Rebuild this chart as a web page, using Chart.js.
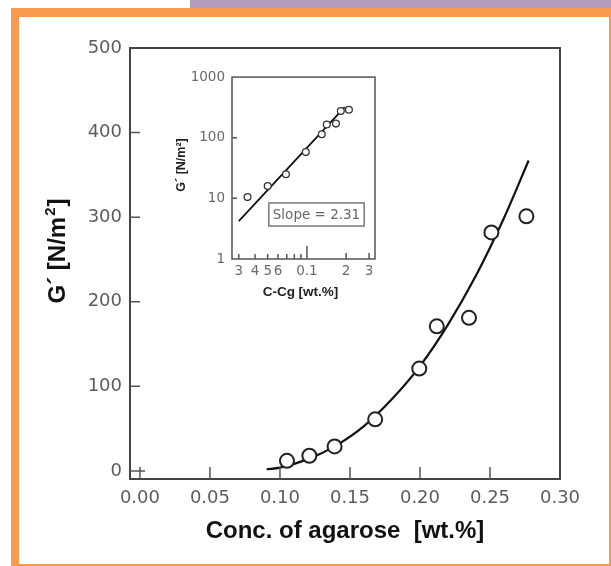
<!DOCTYPE html>
<html>
<head>
<meta charset="utf-8">
<script src="https://cdn.jsdelivr.net/npm/chart.js@4"></script>
<style>
  html, body { margin: 0; padding: 0; background: #fff; }
  #wrap { position: relative; width: 611px; height: 566px; }
  #main { position: absolute; left: 0; top: 0; }
  #inset { position: absolute; left: 170px; top: 62px; }
</style>
</head>
<body>
<div id="wrap">
  <canvas id="main" width="611" height="566"></canvas>
  <canvas id="inset" width="220" height="240"></canvas>
</div>
<script>
// main plot: G' vs agarose concentration
const concX = [0.105, 0.121, 0.139, 0.168, 0.1995, 0.212, 0.235, 0.251, 0.276];
const gPrime = [12, 18, 29, 61, 121, 171, 181, 282, 301];
// fitted curve
const fitX = [0.0905, 0.10, 0.12, 0.14, 0.16, 0.18, 0.20, 0.22, 0.24, 0.26, 0.2776];
const fitY = [2, 4, 14, 30, 53, 85, 124, 173, 231, 299, 367];
const xTicks = [0, 0.05, 0.10, 0.15, 0.20, 0.25, 0.30];
const yTicks = [0, 100, 200, 300, 400, 500];

// inset: log-log, C - Cg
const diffX = [0.035, 0.05, 0.069, 0.098, 0.13, 0.142, 0.167, 0.182, 0.21];
const insetG = [10.5, 16, 25, 58, 114, 165, 171, 276, 290];
const slopeX = [0.03, 0.195];
const slopeY = [4.2, 320];
const insetXTicks = [0.03, 0.04, 0.05, 0.06, 0.07, 0.08, 0.09, 0.1, 0.2, 0.3];
const insetXLabels = {0.03: '3', 0.04: '4', 0.05: '5', 0.06: '6', 0.1: '0.1', 0.2: '2', 0.3: '3'};
const insetYTicks = [1, 10, 100, 1000];

Chart.defaults.font.family = '"DejaVu Sans"';
Chart.defaults.color = '#5c5c5c';

const toXY = (xs, ys) => xs.map((v, i) => ({ x: v, y: ys[i] }));

const framePlugin = {
  id: 'frame',
  beforeDraw(chart) {
    const ctx = chart.ctx;
    ctx.save();
    ctx.fillStyle = '#fff';
    ctx.fillRect(0, 0, chart.width, chart.height);
    ctx.fillStyle = '#b49cc0';
    ctx.fillRect(190, 0, 421, 8);
    ctx.fillStyle = '#f89b4e';
    ctx.fillRect(11, 8, 600, 558);
    ctx.fillStyle = '#fff';
    ctx.fillRect(19, 17, 590, 547);
    ctx.restore();
  },
  afterDraw(chart) {
    const { ctx, chartArea: a, scales: { x, y } } = chart;
    ctx.save();
    ctx.strokeStyle = '#444';
    ctx.lineWidth = 2;
    ctx.strokeRect(a.left, a.top, a.right - a.left, a.bottom - a.top);
    ctx.lineWidth = 1.5;
    ctx.strokeStyle = '#555';
    ctx.beginPath();
    xTicks.slice(0, -1).forEach(v => {
      const px = x.getPixelForValue(v);
      ctx.moveTo(px, a.bottom);
      ctx.lineTo(px, a.bottom - 12);
    });
    yTicks.slice(0, -1).forEach(v => {
      const py = y.getPixelForValue(v);
      ctx.moveTo(a.left, py);
      ctx.lineTo(a.left + (v === 0 ? 15 : 10), py);
    });
    ctx.stroke();

    ctx.fillStyle = '#111';
    ctx.textAlign = 'center';
    ctx.textBaseline = 'middle';
    ctx.font = 'bold 24px "Liberation Sans"';
    ctx.fillText('Conc. of agarose  [wt.%]', (a.left + a.right) / 2, 531);

    // rotated y title with superscript
    ctx.translate(58, 252);
    ctx.rotate(-Math.PI / 2);
    const p1 = 'G´ [N/m', p2 = '2', p3 = ']';
    ctx.font = 'bold 24px "Liberation Sans"';
    const w1 = ctx.measureText(p1).width, w3 = ctx.measureText(p3).width;
    ctx.font = 'bold 15px "Liberation Sans"';
    const w2 = ctx.measureText(p2).width;
    let sx = -(w1 + w2 + w3) / 2;
    ctx.textAlign = 'left';
    ctx.font = 'bold 24px "Liberation Sans"';
    ctx.fillText(p1, sx, 0);
    ctx.font = 'bold 15px "Liberation Sans"';
    ctx.fillText(p2, sx + w1 + 1, -7);
    ctx.font = 'bold 24px "Liberation Sans"';
    ctx.fillText(p3, sx + w1 + w2 + 2, 0);
    ctx.restore();
  }
};

new Chart(document.getElementById('main'), {
  type: 'scatter',
  data: {
    datasets: [
      {
        data: toXY(concX, gPrime),
        pointRadius: 7,
        pointBorderWidth: 2,
        pointBorderColor: '#222',
        pointBackgroundColor: '#fff'
      },
      {
        data: toXY(fitX, fitY),
        showLine: true,
        pointRadius: 0,
        borderColor: '#111',
        borderWidth: 2.2,
        cubicInterpolationMode: 'monotone'
      }
    ]
  },
  options: {
    responsive: false,
    animation: false,
    layout: { padding: { left: 0, right: 51, top: 48, bottom: 0 } },
    plugins: { legend: { display: false }, tooltip: { enabled: false } },
    scales: {
      x: {
        type: 'linear',
        min: -0.0071,
        max: 0.30,
        afterBuildTicks: s => { s.ticks = xTicks.map(v => ({ value: v })); },
        afterFit: s => { s.height = 87; },
        grid: { display: false, drawTicks: false },
        border: { display: false },
        ticks: {
          padding: 9,
          font: { size: 18 },
          maxRotation: 0,
          autoSkip: false,
          callback: v => v.toFixed(2)
        }
      },
      y: {
        type: 'linear',
        min: -9.5,
        max: 500,
        afterBuildTicks: s => { s.ticks = yTicks.map(v => ({ value: v })); },
        afterFit: s => { s.width = 130; },
        grid: { display: false, drawTicks: false },
        border: { display: false },
        ticks: {
          padding: 8,
          font: { size: 18 },
          callback: v => String(v)
        }
      }
    }
  },
  plugins: [framePlugin]
});

const insetPlugin = {
  id: 'insetFrame',
  afterDraw(chart) {
    const { ctx, chartArea: a, scales: { x, y } } = chart;
    ctx.save();
    ctx.strokeStyle = '#555';
    ctx.lineWidth = 1.5;
    ctx.strokeRect(a.left, a.top, a.right - a.left, a.bottom - a.top);
    ctx.beginPath();
    insetXTicks.forEach(v => {
      const px = x.getPixelForValue(v);
      const len = v === 0.1 ? 13 : (v > 0.1 ? 6 : 5);
      ctx.moveTo(px, a.bottom);
      ctx.lineTo(px, a.bottom - len);
    });
    [10, 100].forEach(v => {
      const py = y.getPixelForValue(v);
      ctx.moveTo(a.left, py);
      ctx.lineTo(a.left + 5, py);
    });
    ctx.stroke();

    // slope box
    const bx0 = x.getPixelForValue(0.051), bx1 = x.getPixelForValue(0.275);
    const by0 = y.getPixelForValue(8.4), by1 = y.getPixelForValue(3.5);
    ctx.fillStyle = '#fff';
    ctx.fillRect(bx0, by0, bx1 - bx0, by1 - by0);
    ctx.strokeStyle = '#777';
    ctx.lineWidth = 1.5;
    ctx.strokeRect(bx0, by0, bx1 - bx0, by1 - by0);
    ctx.fillStyle = '#666';
    ctx.font = '13.5px "DejaVu Sans"';
    ctx.textAlign = 'center';
    ctx.textBaseline = 'middle';
    ctx.fillText('Slope = 2.31', (bx0 + bx1) / 2, (by0 + by1) / 2 + 1);

    ctx.fillStyle = '#222';
    ctx.font = 'bold 13.5px "Liberation Sans"';
    ctx.fillText('C-Cg [wt.%]', (a.left + a.right) / 2 - 3, 230);
    ctx.translate(12, 103);
    ctx.rotate(-Math.PI / 2);
    ctx.font = 'bold 12.5px "Liberation Sans"';
    ctx.fillText('G´ [N/m²]', 0, 0);
    ctx.restore();
  }
};

new Chart(document.getElementById('inset'), {
  type: 'scatter',
  data: {
    datasets: [
      {
        data: toXY(diffX, insetG),
        pointRadius: 3.4,
        pointBorderWidth: 1.3,
        pointBorderColor: '#333',
        pointBackgroundColor: '#fff'
      },
      {
        data: toXY(slopeX, slopeY),
        showLine: true,
        pointRadius: 0,
        borderColor: '#111',
        borderWidth: 1.8
      }
    ]
  },
  options: {
    responsive: false,
    animation: false,
    layout: { padding: { left: 0, right: 15, top: 15, bottom: 0 } },
    plugins: { legend: { display: false }, tooltip: { enabled: false } },
    scales: {
      x: {
        type: 'logarithmic',
        min: 0.0266,
        max: 0.333,
        afterBuildTicks: s => { s.ticks = insetXTicks.map(v => ({ value: v })); },
        afterFit: s => { s.height = 43; },
        grid: { display: false, drawTicks: false },
        border: { display: false },
        ticks: {
          padding: 4,
          font: { size: 13.5 },
          color: '#6a6a6a',
          maxRotation: 0,
          autoSkip: false,
          callback: v => insetXLabels[v] || ''
        }
      },
      y: {
        type: 'logarithmic',
        min: 1,
        max: 1000,
        afterBuildTicks: s => { s.ticks = insetYTicks.map(v => ({ value: v })); },
        afterFit: s => { s.width = 62; },
        grid: { display: false, drawTicks: false },
        border: { display: false },
        ticks: {
          padding: 7,
          font: { size: 13.5 },
          color: '#6a6a6a',
          callback: v => String(v)
        }
      }
    }
  },
  plugins: [insetPlugin]
});
</script>
</body>
</html>
